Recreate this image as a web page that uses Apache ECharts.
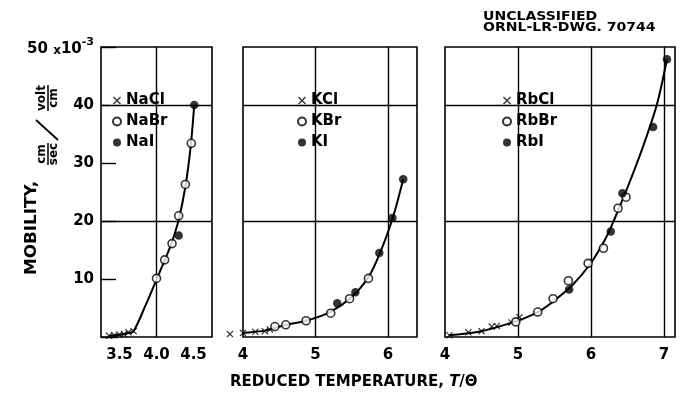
<!DOCTYPE html>
<html><head><meta charset="utf-8">
<script src="https://cdn.jsdelivr.net/npm/echarts@6/dist/echarts.min.js"></script>
<style>html,body{margin:0;padding:0;background:#fff}#c{width:680px;height:397px}</style>
</head><body><div id="c"></div>
<script>
// ---- Panel 1: sodium halides (reduced temperature T/Θ, mobility ×1e-3)
const naClT = [3.36, 3.43, 3.50, 3.56, 3.62, 3.69];
const naClV = [0.2, 0.3, 0.4, 0.5, 0.8, 1.0];
const naBrT = [4.00, 4.11, 4.21, 4.30, 4.39, 4.47];
const naBrV = [10.1, 13.3, 16.1, 20.9, 26.3, 33.4];
const naIT = [4.30, 4.51];
const naIV = [17.5, 40.0];
const curve1T = [3.36, 3.50, 3.62, 3.69, 3.85, 4.00, 4.11, 4.21, 4.30, 4.39, 4.46, 4.51];
const curve1V = [0.2, 0.4, 0.7, 1.0, 5.4, 9.9, 13.2, 16.4, 20.2, 25.9, 32.6, 40.0];
// ---- Panel 2: potassium halides
const kClT = [3.82, 4.00, 4.17, 4.30, 4.37];
const kClV = [0.5, 0.7, 0.9, 1.0, 1.3];
const kBrT = [4.44, 4.59, 4.87, 5.21, 5.47, 5.73];
const kBrV = [1.8, 2.1, 2.8, 4.1, 6.6, 10.1];
const kIT = [5.30, 5.55, 5.88, 6.06, 6.21];
const kIV = [5.8, 7.7, 14.5, 20.5, 27.2];
const curve2T = [3.82, 4.00, 4.30, 4.45, 4.60, 4.87, 5.20, 5.50, 5.73, 5.88, 6.06, 6.21];
const curve2V = [0.5, 0.7, 1.1, 1.6, 2.1, 2.8, 4.3, 6.9, 10.3, 14.2, 20.3, 27.2];
// ---- Panel 3: rubidium halides
const rbClT = [4.06, 4.32, 4.50, 4.64, 4.71, 4.91, 5.02];
const rbClV = [0.3, 0.8, 1.0, 1.8, 1.9, 2.5, 3.4];
const rbBrT = [4.97, 5.27, 5.48, 5.69, 5.96, 6.17, 6.37, 6.48];
const rbBrV = [2.6, 4.3, 6.6, 9.7, 12.7, 15.3, 22.2, 24.1];
const rbIT = [5.70, 6.27, 6.43, 6.85, 7.04];
const rbIV = [8.2, 18.2, 24.8, 36.2, 47.9];
const curve3T = [4.06, 4.50, 4.90, 5.10, 5.30, 5.50, 5.75, 6.00, 6.20, 6.31, 6.50, 6.70, 6.90, 7.04];
const curve3V = [0.3, 1.0, 2.4, 3.3, 4.5, 6.3, 9.0, 12.8, 17.0, 20.0, 25.8, 32.4, 40.0, 47.9];
// ---- grid lines and tick labels
const hLines = [20, 40];
const vLines1 = [4.0];
const vLines2 = [5, 6];
const vLines3 = [5, 6, 7];
const yTicks = [10, 20, 30, 40, 50];
const names1 = ['NaCl', 'NaBr', 'NaI'];
const names2 = ['KCl', 'KBr', 'KI'];
const names3 = ['RbCl', 'RbBr', 'RbI'];

const FONT = 'DejaVu Sans';
const CROSS = 'path://M0,1.2L1.2,0L5,3.8L8.8,0L10,1.2L6.2,5L10,8.8L8.8,10L5,6.2L1.2,10L0,8.8L3.8,5Z';
const zip = (a, b) => a.map((v, i) => [v, b[i]]);

const grids = [
  {left: 101, top: 47, width: 111, height: 290},
  {left: 243, top: 47, width: 174, height: 290},
  {left: 445, top: 47, width: 230, height: 290}
].map(g => Object.assign(g, {show: true, borderColor: '#000', borderWidth: 1.6, backgroundColor: 'transparent'}));

const labelStyle = {color: '#000', fontSize: 15, fontWeight: 'bold', fontFamily: FONT, margin: 11};
const xAxes = [
  {min: 3.25, max: 4.75, interval: 0.25,
   fmt: v => Math.abs(v * 2 - Math.round(v * 2)) < 1e-6 ? v.toFixed(1) : ''},
  {min: 4, max: 6.4, interval: 1, fmt: v => Number.isInteger(v) ? String(v) : ''},
  {min: 4, max: 7.15, interval: 1, fmt: v => Number.isInteger(v) ? String(v) : ''}
].map((a, i) => ({
  type: 'value', gridIndex: i, min: a.min, max: a.max, interval: a.interval,
  axisLine: {show: false}, axisTick: {show: false}, splitLine: {show: false},
  axisLabel: Object.assign({}, labelStyle, {formatter: a.fmt, showMinLabel: true, showMaxLabel: true})
}));

const yAxes = [0, 1, 2].map(i => ({
  type: 'value', gridIndex: i, min: 0, max: 50, interval: 10,
  axisLine: {show: false}, splitLine: {show: false},
  axisTick: {show: i === 0, inside: true, length: 15, lineStyle: {color: '#000', width: 1.4}},
  axisLabel: i === 0 ? Object.assign({}, labelStyle, {
    margin: 7,
    formatter: v => v === 50 ? '{b|50 }{x|x}{b|10}{s|-3}' : (yTicks.indexOf(v) >= 0 ? String(v) : ''),
    rich: {
      b: {fontSize: 15, fontWeight: 'bold', fontFamily: FONT, color: '#000', lineHeight: 20, verticalAlign: 'bottom'},
      x: {fontSize: 12, fontWeight: 'bold', fontFamily: FONT, color: '#000', lineHeight: 20, verticalAlign: 'bottom'},
      s: {fontSize: 11, fontWeight: 'bold', fontFamily: FONT, color: '#000', lineHeight: 20, verticalAlign: 'top', padding: [0, 0, 8, 0]}
    }
  }) : {show: false}
}));

function panel(i, names, cl, br, io, curve, vLines) {
  const common = {xAxisIndex: i, yAxisIndex: i, clip: false, z: 5};
  return [
    Object.assign({}, common, {
      type: 'line', name: 'curve' + i, data: curve, smooth: 0.3,
      symbol: 'none', z: 3, lineStyle: {color: '#000', width: 2},
      markLine: {
        silent: true, symbol: 'none', label: {show: false}, animation: false,
        lineStyle: {color: '#000', width: 1.4, type: 'solid'},
        data: hLines.map(v => ({yAxis: v})).concat(vLines.map(v => ({xAxis: v})))
      }
    }),
    Object.assign({}, common, {type: 'scatter', name: names[0], data: cl, symbol: CROSS, symbolSize: 7,
      itemStyle: {color: '#000'}}),
    Object.assign({}, common, {type: 'scatter', name: names[1], data: br, symbol: 'circle', symbolSize: 8,
      itemStyle: {color: '#fff', borderColor: '#000', borderWidth: 1.6}}),
    Object.assign({}, common, {type: 'scatter', name: names[2], data: io, symbol: 'circle', symbolSize: 8.5,
      itemStyle: {color: '#000'}})
  ];
}

const series = [].concat(
  panel(0, names1, zip(naClT, naClV), zip(naBrT, naBrV), zip(naIT, naIV), zip(curve1T, curve1V), vLines1),
  panel(1, names2, zip(kClT, kClV), zip(kBrT, kBrV), zip(kIT, kIV), zip(curve2T, curve2V), vLines2),
  panel(2, names3, zip(rbClT, rbClV), zip(rbBrT, rbBrV), zip(rbIT, rbIV), zip(curve3T, curve3V), vLines3)
);

function legend(left, names) {
  return {
    left: left, top: 91, orient: 'vertical', itemWidth: 8, itemHeight: 8, itemGap: 6,
    backgroundColor: '#fff', padding: [2, 6, 2, 3], selectedMode: false,
    textStyle: {fontSize: 15, fontWeight: 'bold', fontFamily: FONT, color: '#000'},
    data: [{name: names[0], icon: CROSS}, {name: names[1], icon: 'circle'}, {name: names[2], icon: 'circle'}]
  };
}

const graphic = [
  {type: 'text', x: 483, y: 17, scaleX: 1.08, style: {text: 'UNCLASSIFIED', fontSize: 13, fontWeight: 'bold', fontFamily: FONT, fill: '#000', align: 'left', verticalAlign: 'middle'}},
  {type: 'text', x: 483, y: 28, scaleX: 1.08, style: {text: 'ORNL-LR-DWG. 70744', fontSize: 13, fontWeight: 'bold', fontFamily: FONT, fill: '#000', align: 'left', verticalAlign: 'middle'}},
  {type: 'text', x: 230, y: 382, style: {text: 'REDUCED TEMPERATURE, {i|T}/Θ', fontSize: 15, fontWeight: 'bold', fontFamily: FONT, fill: '#000', align: 'left', verticalAlign: 'middle',
     rich: {i: {fontStyle: 'italic', fontWeight: 'bold', fontSize: 15, fontFamily: FONT}}}},
  {type: 'group', x: 32, y: 275, rotation: Math.PI / 2, children: [
    {type: 'text', x: 0, y: 0, scaleX: 1.12, style: {text: 'MOBILITY,', fontSize: 15, fontWeight: 'bold', fontFamily: FONT, fill: '#000', align: 'left', verticalAlign: 'middle'}},
    {type: 'text', x: 121, y: 10, style: {text: 'cm', fontSize: 12, fontWeight: 'bold', fontFamily: FONT, fill: '#000', align: 'center', verticalAlign: 'middle'}},
    {type: 'line', shape: {x1: 110, y1: 16, x2: 132, y2: 16}, style: {stroke: '#000', lineWidth: 1.5}},
    {type: 'text', x: 121, y: 22, style: {text: 'sec', fontSize: 12, fontWeight: 'bold', fontFamily: FONT, fill: '#000', align: 'center', verticalAlign: 'middle'}},
    {type: 'line', shape: {x1: 135, y1: 26, x2: 155, y2: 4}, style: {stroke: '#000', lineWidth: 1.7}},
    {type: 'text', x: 177, y: 10, style: {text: 'volt', fontSize: 12, fontWeight: 'bold', fontFamily: FONT, fill: '#000', align: 'center', verticalAlign: 'middle'}},
    {type: 'line', shape: {x1: 164, y1: 16, x2: 190, y2: 16}, style: {stroke: '#000', lineWidth: 1.5}},
    {type: 'text', x: 177, y: 22, style: {text: 'cm', fontSize: 12, fontWeight: 'bold', fontFamily: FONT, fill: '#000', align: 'center', verticalAlign: 'middle'}}
  ]}
];

const chart = echarts.init(document.getElementById('c'), null, {renderer: 'canvas'});
chart.setOption({
  animation: false,
  backgroundColor: '#fff',
  grid: grids,
  xAxis: xAxes,
  yAxis: yAxes,
  legend: [legend(109, names1), legend(294, names2), legend(499, names3)],
  series: series,
  graphic: graphic
});
</script></body></html>
